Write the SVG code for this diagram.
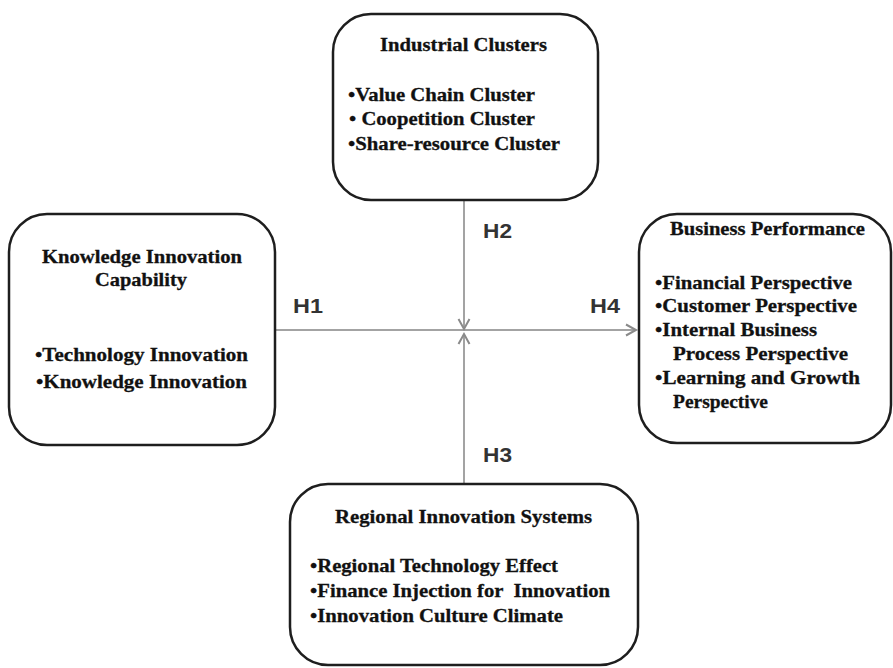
<svg xmlns="http://www.w3.org/2000/svg" width="893" height="668" viewBox="0 0 893 668">
<style>
.box{fill:#fff;stroke:#1e1e1e;stroke-width:2.5}
.t{font-family:"Liberation Serif","Times New Roman",serif;font-weight:bold;font-size:19px;fill:#111;stroke:#111;stroke-width:0.3}
.h{font-family:"Liberation Sans",Arial,sans-serif;font-weight:bold;font-size:20px;fill:#333}
.c{fill:none;stroke:#a3a3a3;stroke-width:2}
</style>
<defs>
<marker id="arr" markerUnits="userSpaceOnUse" markerWidth="14" markerHeight="14" viewBox="0 0 14 14" refX="11" refY="7" orient="auto">
<path d="M1,1.5 L11,7 L1,12.5" fill="none" stroke="#8a8a8a" stroke-width="2"/>
</marker>
</defs>
<rect width="893" height="668" fill="#fff"/>
<g id="connectors">
<line class="c" x1="276" y1="330" x2="636" y2="330" marker-end="url(#arr)"/>
<line class="c" x1="464" y1="200" x2="464" y2="329" marker-end="url(#arr)"/>
<line class="c" x1="464" y1="484" x2="464" y2="334" marker-end="url(#arr)"/>
<text class="h" x="293" y="313" textLength="30" lengthAdjust="spacingAndGlyphs">H1</text>
<text class="h" x="483" y="238" textLength="29" lengthAdjust="spacingAndGlyphs">H2</text>
<text class="h" x="483" y="462" textLength="29" lengthAdjust="spacingAndGlyphs">H3</text>
<text class="h" x="590" y="313" textLength="30" lengthAdjust="spacingAndGlyphs">H4</text>
</g>
<g id="industrial-clusters">
<rect class="box" x="333" y="14" width="265" height="186" rx="38"/>
<text class="t" x="380" y="51" textLength="167" lengthAdjust="spacingAndGlyphs">Industrial Clusters</text>
<text class="t" x="348" y="101" textLength="187" lengthAdjust="spacingAndGlyphs">•Value Chain Cluster</text>
<text class="t" x="349" y="125" textLength="186" lengthAdjust="spacingAndGlyphs">• Coopetition Cluster</text>
<text class="t" x="348" y="150" textLength="212" lengthAdjust="spacingAndGlyphs">•Share-resource Cluster</text>
</g>
<g id="knowledge-innovation-capability">
<rect class="box" x="9" y="214" width="266" height="231" rx="38"/>
<text class="t" x="42" y="263" textLength="200" lengthAdjust="spacingAndGlyphs">Knowledge Innovation</text>
<text class="t" x="95" y="286" textLength="92" lengthAdjust="spacingAndGlyphs">Capability</text>
<text class="t" x="35" y="361" textLength="213" lengthAdjust="spacingAndGlyphs">•Technology Innovation</text>
<text class="t" x="36" y="388" textLength="211" lengthAdjust="spacingAndGlyphs">•Knowledge Innovation</text>
</g>
<g id="business-performance">
<rect class="box" x="639" y="214" width="252" height="229" rx="38"/>
<text class="t" x="670" y="235" textLength="195" lengthAdjust="spacingAndGlyphs">Business Performance</text>
<text class="t" x="655" y="289" textLength="197" lengthAdjust="spacingAndGlyphs">•Financial Perspective</text>
<text class="t" x="655" y="312" textLength="202" lengthAdjust="spacingAndGlyphs">•Customer Perspective</text>
<text class="t" x="655" y="336" textLength="162" lengthAdjust="spacingAndGlyphs">•Internal Business</text>
<text class="t" x="673" y="360" textLength="175" lengthAdjust="spacingAndGlyphs">Process Perspective</text>
<text class="t" x="655" y="384" textLength="205" lengthAdjust="spacingAndGlyphs">•Learning and Growth</text>
<text class="t" x="673" y="408" textLength="95" lengthAdjust="spacingAndGlyphs">Perspective</text>
</g>
<g id="regional-innovation-systems">
<rect class="box" x="290" y="484" width="348" height="181" rx="38"/>
<text class="t" x="335" y="523" textLength="257" lengthAdjust="spacingAndGlyphs">Regional Innovation Systems</text>
<text class="t" x="310" y="572" textLength="248" lengthAdjust="spacingAndGlyphs">•Regional Technology Effect</text>
<text class="t" x="310" y="597" textLength="300" lengthAdjust="spacingAndGlyphs" style="white-space:pre">•Finance Injection for  Innovation</text>
<text class="t" x="310" y="622" textLength="253" lengthAdjust="spacingAndGlyphs">•Innovation Culture Climate</text>
</g>
</svg>
